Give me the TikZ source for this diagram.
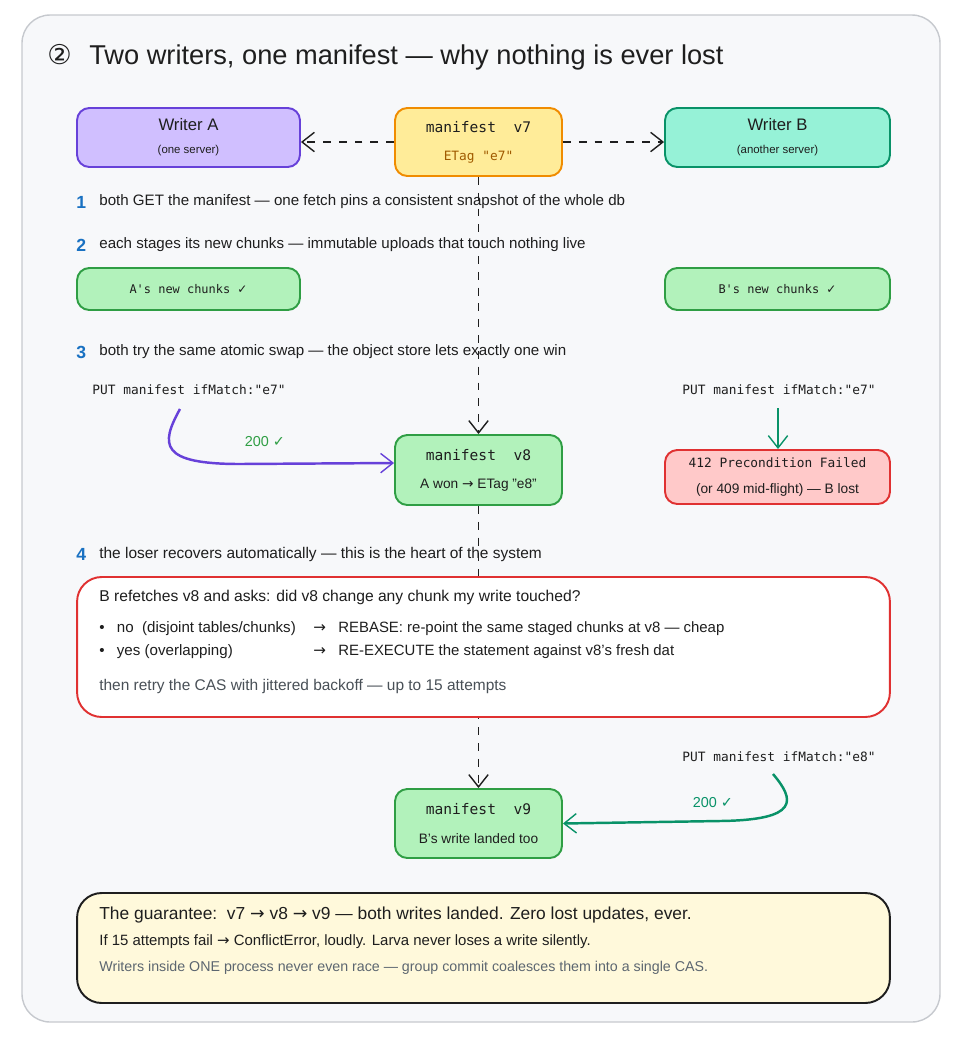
\documentclass[tikz,border=0pt]{standalone}
\usepackage{fontspec}
\setmainfont{Liberation Sans}
\setmonofont{DejaVu Sans Mono}
\newfontfamily\symfont{DejaVu Sans}
\usetikzlibrary{arrows.meta}
\newcommand{\chk}{{\symfont ✓}}
\newcommand{\ra}{{\symfont →}}
\definecolor{ink}{HTML}{1E1E1E}
\definecolor{paper}{HTML}{F7F8FA}
\definecolor{frame}{HTML}{C6C9CE}
\definecolor{lilac}{HTML}{D0BFFF}
\definecolor{violet}{HTML}{6741D9}
\definecolor{butter}{HTML}{FFEC99}
\definecolor{amber}{HTML}{F08C00}
\definecolor{etag}{HTML}{A05A00}
\definecolor{mint}{HTML}{96F2D7}
\definecolor{teal}{HTML}{099268}
\definecolor{leaf}{HTML}{B2F2BB}
\definecolor{grass}{HTML}{2F9E44}
\definecolor{rose}{HTML}{FFC9C9}
\definecolor{alarm}{HTML}{E03131}
\definecolor{cream}{HTML}{FFF9DB}
\definecolor{stepblue}{HTML}{1971C2}
\definecolor{muted}{HTML}{495057}
\definecolor{slate}{HTML}{5C6670}
\begin{document}
\begin{tikzpicture}[x=0.02cm, y=-0.02cm,
    box/.style={draw, rounded corners=7pt, line width=1.1pt, align=center, text=ink, inner sep=0pt},
    txt/.style={anchor=west, text=ink, inner sep=0pt, font=\fontsize{8.6}{10}\selectfont},
    num/.style={anchor=west, text=stepblue, inner sep=0pt, font=\bfseries\fontsize{10}{12}\selectfont},
    mono/.style={inner sep=0pt, text=ink, font=\ttfamily\fontsize{7.3}{9}\selectfont},
    tip/.style={-{Straight Barb[length=7pt,width=11pt,line width=0.8pt]}},
    flow/.style={tip, ink, line width=0.8pt, dash pattern=on 4.5pt off 4.5pt}]
\useasboundingbox (0,0) rectangle (975,1042);
\draw[frame, fill=paper, line width=0.8pt, rounded corners=16pt] (22,15) rectangle (940,1022);

\node[anchor=west, inner sep=0pt, text=ink, font=\fontsize{15.5}{18}\selectfont] (title) at (47,57)
  {{\symfont ②}\hspace{10pt}Two writers, one manifest — why nothing is ever lost};

\node[box, fill=lilac, draw=violet, minimum width=4.46cm, minimum height=1.18cm] (wa) at (188.5,137.5)
  {\fontsize{9.5}{11}\selectfont Writer A\\[1pt]{\fontsize{6.5}{8}\selectfont (one server)}};
\node[box, fill=butter, draw=amber, minimum width=3.34cm, minimum height=1.36cm] (v7) at (478.5,142)
  {\ttfamily\fontsize{8.3}{10}\selectfont manifest\ \ v7\\[4pt]{\ttfamily\fontsize{7.3}{9}\selectfont\color{etag}ETag "e7"}};
\node[box, fill=mint, draw=teal, minimum width=4.5cm, minimum height=1.18cm] (wb) at (777.5,137.5)
  {\fontsize{9.5}{11}\selectfont Writer B\\[1pt]{\fontsize{6.5}{8}\selectfont (another server)}};

\node[box, fill=leaf, draw=grass, minimum width=4.46cm, minimum height=0.84cm, font=\ttfamily\fontsize{6.8}{8}\selectfont] (ca) at (188.5,289) {A's new chunks \chk};
\node[box, fill=leaf, draw=grass, minimum width=4.5cm, minimum height=0.84cm, font=\ttfamily\fontsize{6.8}{8}\selectfont] (cb) at (777.5,289) {B's new chunks \chk};

\node[box, fill=leaf, draw=grass, minimum width=3.34cm, minimum height=1.4cm] (v8) at (478.5,470)
  {\ttfamily\fontsize{8.3}{10}\selectfont manifest\ \ v8\\[4pt]{\fontsize{7.8}{9}\selectfont A won \ra\ ETag "e8"}};
\node[box, fill=rose, draw=alarm, minimum width=4.5cm, minimum height=1.08cm] (fail) at (777.5,477)
  {\ttfamily\fontsize{7.3}{9}\selectfont 412 Precondition Failed\\[3pt]{\fontsize{7.8}{9}\selectfont (or 409 mid-flight) — B lost}};
\node[box, fill=leaf, draw=grass, minimum width=3.34cm, minimum height=1.38cm] (v9) at (478.5,823.5)
  {\ttfamily\fontsize{8.3}{10}\selectfont manifest\ \ v9\\[4pt]{\fontsize{7.8}{9}\selectfont B's write landed too}};

\node[num] (n1) at (76,202) {1};
\node[txt] (s1) at (99,202) {both GET the manifest — one fetch pins a consistent snapshot of the whole db};
\node[num] (n2) at (76,245) {2};
\node[txt] (s2) at (99,245) {each stages its new chunks — immutable uploads that touch nothing live};
\node[num] (n3) at (76,352) {3};
\node[txt] (s3) at (99,352) {both try the same atomic swap — the object store lets exactly one win};
\node[num] (n4) at (76,554) {4};
\node[txt, font=\fontsize{8.8}{10}\selectfont] (s4) at (99,554) {the loser recovers automatically — this is the heart of the system};

\node[mono] (puta) at (189,390) {PUT manifest ifMatch:"e7"};
\node[mono] (putb) at (779,390) {PUT manifest ifMatch:"e7"};
\node[mono] (putc) at (779,757) {PUT manifest ifMatch:"e8"};
\coordinate (fa) at (180,409);
\coordinate (fb) at (778,408);
\coordinate (fc) at (773,774);
\node[text=grass, inner sep=0pt, font=\fontsize{8.2}{10}\selectfont] (oka) at (265,442) {200 \chk};
\node[text=teal, inner sep=0pt, font=\fontsize{8.2}{10}\selectfont] (okc) at (713,803) {200 \chk};

\draw[flow] (v7.west) -- (v7.west -| wa.east);
\draw[flow] (v7.east) -- (v7.east -| wb.west);
\draw[flow] (v7.south) -- (v8.north);
\draw[flow] (v8.south) -- (v9.north);
\draw[tip, violet, line width=1.4pt] (fa) .. controls (160,445) and (160,464) .. (240,464) -- ([yshift=0.14cm]v8.west);
\draw[tip, teal, line width=1.4pt] (fb) -- (fb |- fail.north);
\draw[tip, teal, line width=1.4pt] (fc) .. controls (795,800) and (800,820) .. (720,821) -- (v9.east);

\node[box, fill=white, draw=alarm, minimum width=16.26cm, minimum height=2.8cm, rounded corners=14pt] (retry) at (483.5,647) {};
\node[txt, font=\fontsize{8.9}{10}\selectfont] (r1) at (99,597) {B refetches v8 and asks: did v8 change any chunk my write touched?};
\node[txt] (r2) at (99,629) {•\hspace{7pt}no\ \ (disjoint tables/chunks)};
\node[txt] (r2a) at (313,629) {\ra};
\node[txt, font=\fontsize{8.5}{10}\selectfont] (r2b) at (338,629) {REBASE: re-point the same staged chunks at v8 — cheap};
\node[txt] (r3) at (99,652) {•\hspace{7pt}yes (overlapping)};
\node[txt] (r3a) at (313,652) {\ra};
\node[txt, font=\fontsize{8.5}{10}\selectfont] (r3b) at (338,652) {RE-EXECUTE the statement against v8's fresh dat};
\node[txt, text=muted, font=\fontsize{8.8}{10}\selectfont] (r4) at (99,686) {then retry the CAS with jittered backoff — up to 15 attempts};

\node[box, fill=cream, draw=ink, minimum width=16.26cm, minimum height=2.2cm, rounded corners=14pt] (promise) at (483.5,948) {};
\node[txt, font=\fontsize{9.9}{11}\selectfont] (g1) at (99,915) {The guarantee:\ \ v7 \ra\ v8 \ra\ v9 — both writes landed. Zero lost updates, ever.};
\node[txt, font=\fontsize{8.5}{10}\selectfont] (g2) at (99,942) {If 15 attempts fail \ra\ ConflictError, loudly. Larva never loses a write silently.};
\node[txt, text=slate, font=\fontsize{8.1}{10}\selectfont] (g3) at (99,968) {Writers inside ONE process never even race — group commit coalesces them into a single CAS.};
\end{tikzpicture}
\end{document}
